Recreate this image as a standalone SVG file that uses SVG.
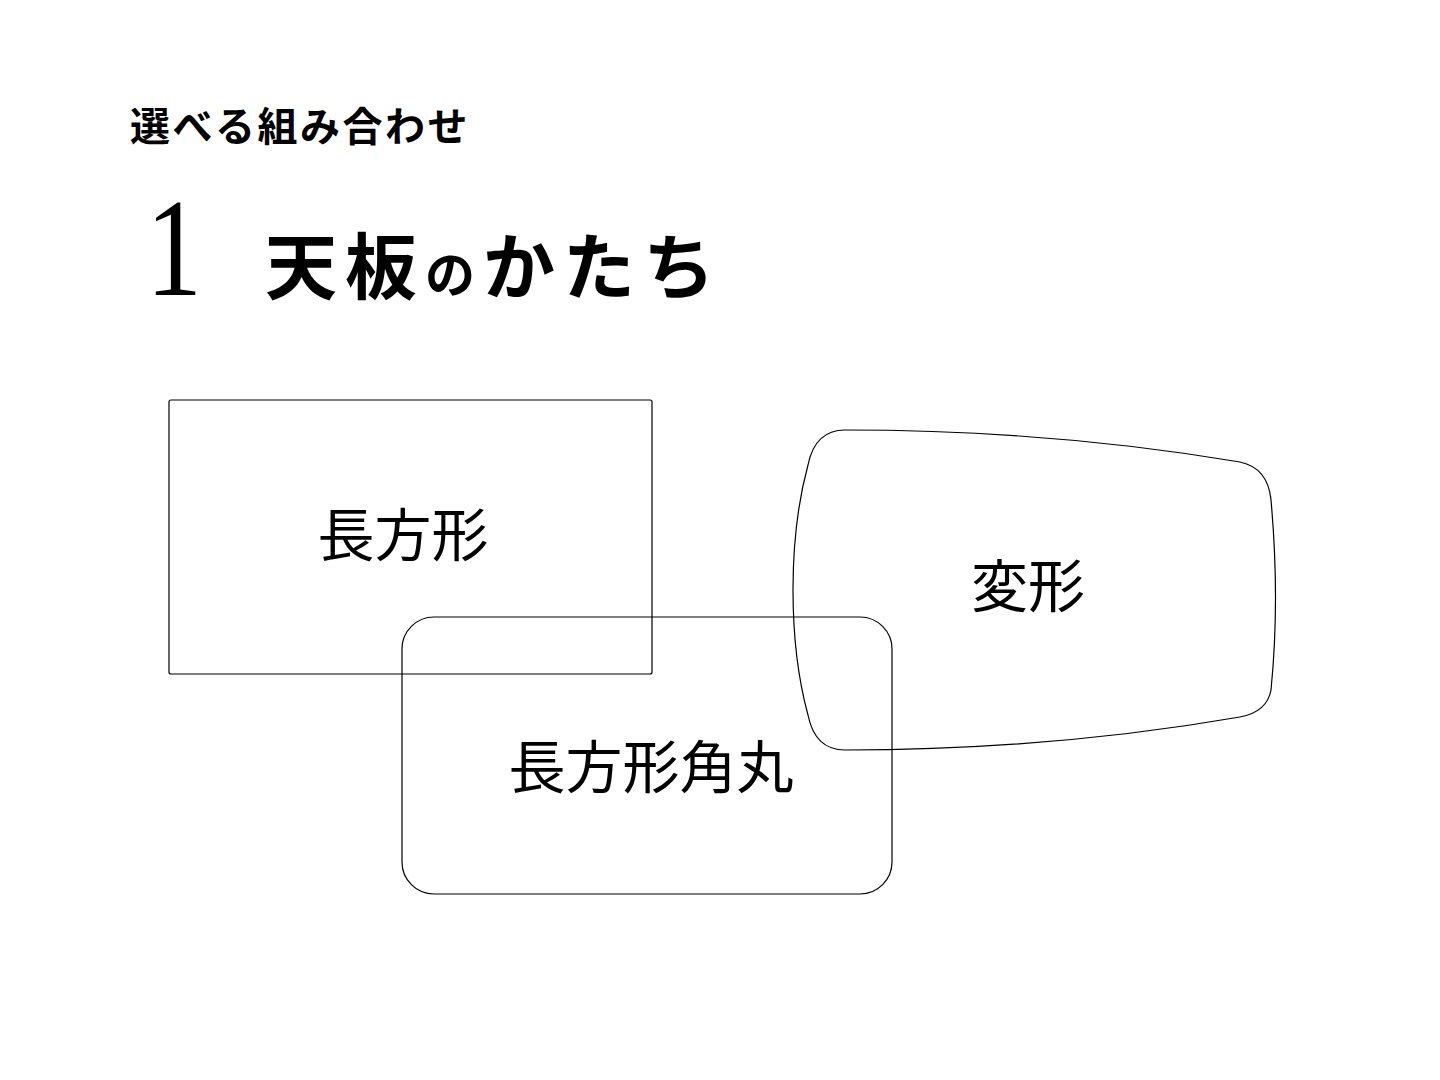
<svg xmlns="http://www.w3.org/2000/svg" width="1440" height="1080" viewBox="0 0 1440 1080">
<style>
.s{fill:none;stroke:#000;stroke-width:1.2}
.l{font-family:"Noto Sans CJK JP",sans-serif;font-size:57px;fill:#000;text-anchor:middle}
.h{font-family:"Noto Sans CJK JP",sans-serif;font-weight:bold;fill:#000}
</style>
<rect width="1440" height="1080" fill="#fff"/>
<text class="h" x="130" y="141" font-size="40" letter-spacing="2.5">選べる組み合わせ</text>
<text transform="translate(146 295) scale(0.8 1)" font-family="Liberation Serif,serif" font-size="140" fill="#000">1</text>
<text class="h" x="265" y="293" font-size="72" letter-spacing="8">天板<tspan font-size="50">の</tspan>かたち</text>
<g id="rect"><rect class="s" x="169" y="400" width="483" height="274" rx="2"/><text class="l" x="403" y="556">長方形</text></g>
<g id="rounded"><rect class="s" x="402" y="617" width="490" height="277" rx="32"/><text class="l" x="651" y="788">長方形角丸</text></g>
<g id="deformed"><path class="s" d="M845 430 Q1050 430 1240 462 Q1268 468 1271 500 Q1280 600 1271 690 Q1267 712 1240 717 Q1050 750 845 750 Q815 750 808 715 Q793 660 793 590 Q793 520 808 465 Q815 430 845 430 Z"/><text class="l" x="1028" y="607">変形</text></g>
<g id="connectors"/>
</svg>
